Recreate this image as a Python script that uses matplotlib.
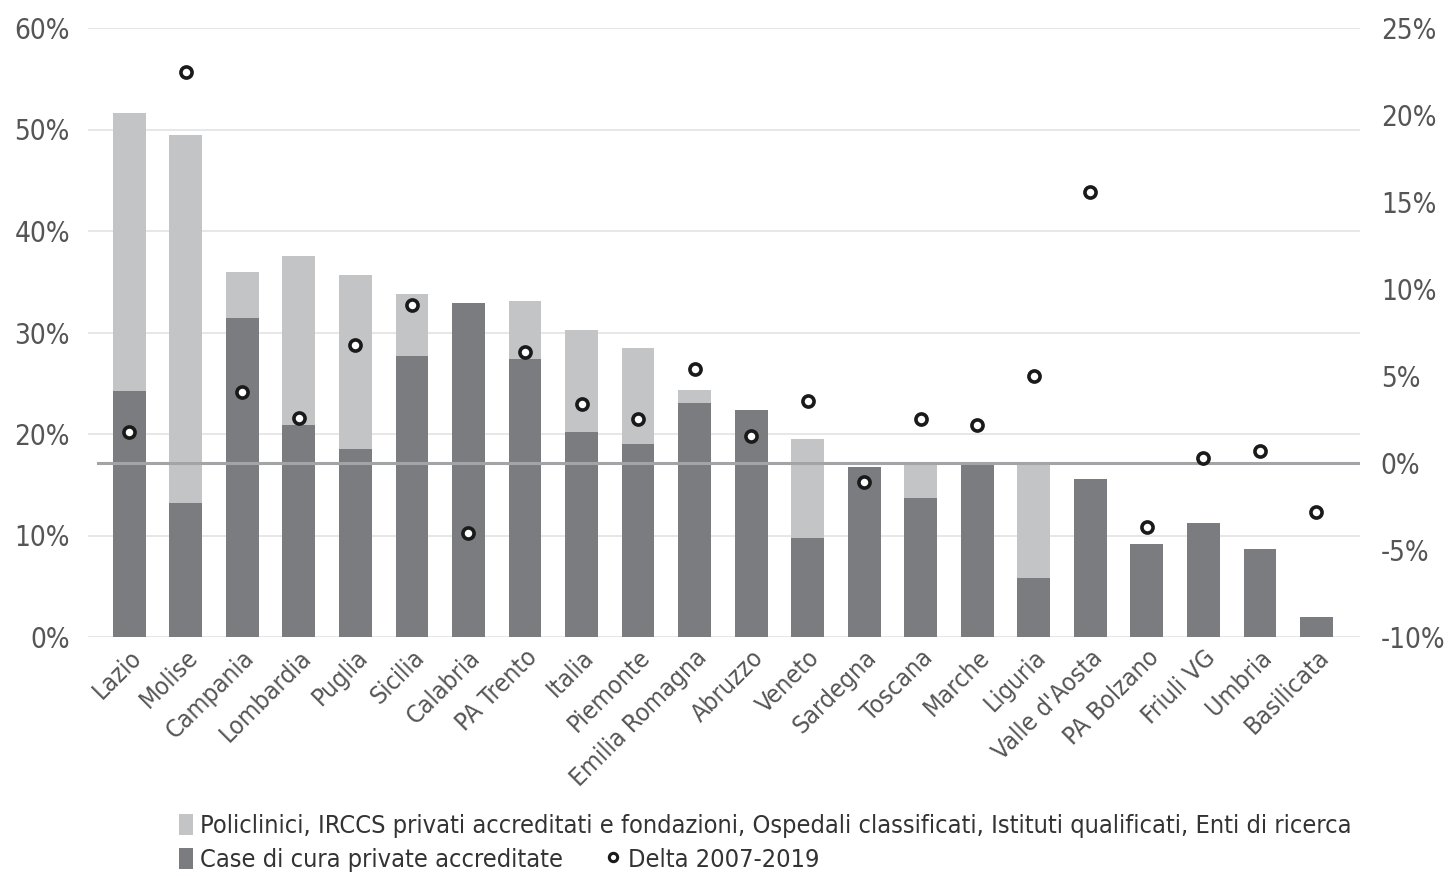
import numpy as np
import matplotlib.pyplot as plt
from matplotlib.lines import Line2D
from matplotlib.patches import Patch

plt.rcParams['font.family'] = ['DejaVu Sans']
plt.rcParams['font.stretch'] = 'condensed'

# Dati
regioni = ['Lazio', 'Molise', 'Campania', 'Lombardia', 'Puglia', 'Sicilia', 'Calabria',
           'PA Trento', 'Italia', 'Piemonte', 'Emilia Romagna', 'Abruzzo', 'Veneto',
           'Sardegna', 'Toscana', 'Marche', 'Liguria', "Valle d'Aosta", 'PA Bolzano',
           'Friuli VG', 'Umbria', 'Basilicata']
case_cura = [24.2, 13.2, 31.4, 20.9, 18.5, 27.7, 32.9, 27.4, 20.2, 19.0, 23.1, 22.4,
             9.75, 16.7, 13.7, 17.2, 5.8, 15.6, 9.2, 11.25, 8.7, 2.0]
totale = [51.6, 49.5, 36.0, 37.5, 35.7, 33.8, 32.9, 33.1, 30.25, 28.5, 24.3, 22.4,
          19.5, 16.7, 17.2, 17.2, 17.1, 15.6, 9.2, 11.25, 8.7, 2.0]
delta = [1.8, 22.5, 4.1, 2.6, 6.8, 9.1, -4.0, 6.4, 3.4, 2.5, 5.4, 1.55, 3.55, -1.1,
         2.5, 2.2, 5.0, 15.6, -3.7, 0.3, 0.7, -2.8]

policlinici = [t - c for t, c in zip(totale, case_cura)]

chiaro = '#c3c4c6'
scuro = '#7b7c80'
testo = '#555555'

fig = plt.figure(figsize=(14.49, 8.76), dpi=100)
ax = fig.add_axes([88 / 1449, 1 - 637 / 876, (1360 - 88) / 1449, (637 - 28) / 876])
x = np.arange(len(regioni))

ax.bar(x, case_cura, width=0.58, color=scuro, zorder=2)
ax.bar(x, policlinici, width=0.58, bottom=case_cura, color=chiaro, zorder=2)

ax.set_ylim(0, 60)
ax.set_xlim(-0.73, len(regioni) - 0.23)
ax.set_yticks(range(0, 61, 10))
ax.set_yticklabels([f'{v}%' for v in range(0, 61, 10)])
ax.grid(axis='y', color='#e3e3e3', linewidth=1.2, zorder=0)
ax.set_axisbelow(True)
for s in ax.spines.values():
    s.set_visible(False)
ax.tick_params(axis='y', length=0, pad=13, labelsize=20, labelcolor=testo)
ax.tick_params(axis='x', length=0, pad=6)
ax.set_xticks(x)
ax.set_xticklabels(regioni, rotation=45, ha='right', rotation_mode='anchor',
                   fontsize=18, color=testo)

# Asse destro per il delta
ax2 = ax.twinx()
ax2.set_ylim(-10, 25)
ax2.set_yticks(range(-10, 26, 5))
ax2.set_yticklabels([f'{v}%' for v in range(-10, 26, 5)])
for s in ax2.spines.values():
    s.set_visible(False)
ax2.tick_params(axis='y', length=0, pad=15, labelsize=20, labelcolor=testo)
ax2.axhline(0, xmin=0.008, xmax=1.0, color='#a3a4a7', linewidth=2.2, zorder=3)
ax2.plot(x, delta, linestyle='none', marker='o', markersize=8, markerfacecolor='white',
         markeredgecolor='#1a1a1a', markeredgewidth=2.6, zorder=4)

# Legenda su due righe
h1 = [Patch(facecolor=chiaro, edgecolor='none')]
l1 = ['Policlinici, IRCCS privati accreditati e fondazioni, Ospedali classificati, Istituti qualificati, Enti di ricerca']
fig.legend(h1, l1, loc='upper left', bbox_to_anchor=(166 / 1449, 1 - 801 / 876),
           frameon=False, fontsize=18.2, handlelength=0.55, handleheight=0.9,
           handletextpad=0.3, labelcolor='#333333', borderpad=0)
h2 = [Patch(facecolor=scuro, edgecolor='none'),
      Line2D([], [], linestyle='none', marker='o', markersize=6, markerfacecolor='white',
             markeredgecolor='#1a1a1a', markeredgewidth=2.2)]
l2 = ['Case di cura private accreditate', 'Delta 2007-2019']
fig.legend(h2, l2, loc='upper left', bbox_to_anchor=(166 / 1449, 1 - 835 / 876),
           frameon=False, fontsize=18.2, ncol=2, handlelength=0.55, handleheight=0.9,
           handletextpad=0.3, columnspacing=1.7, labelcolor='#333333', borderpad=0)

fig.savefig('out.png', dpi=100)
